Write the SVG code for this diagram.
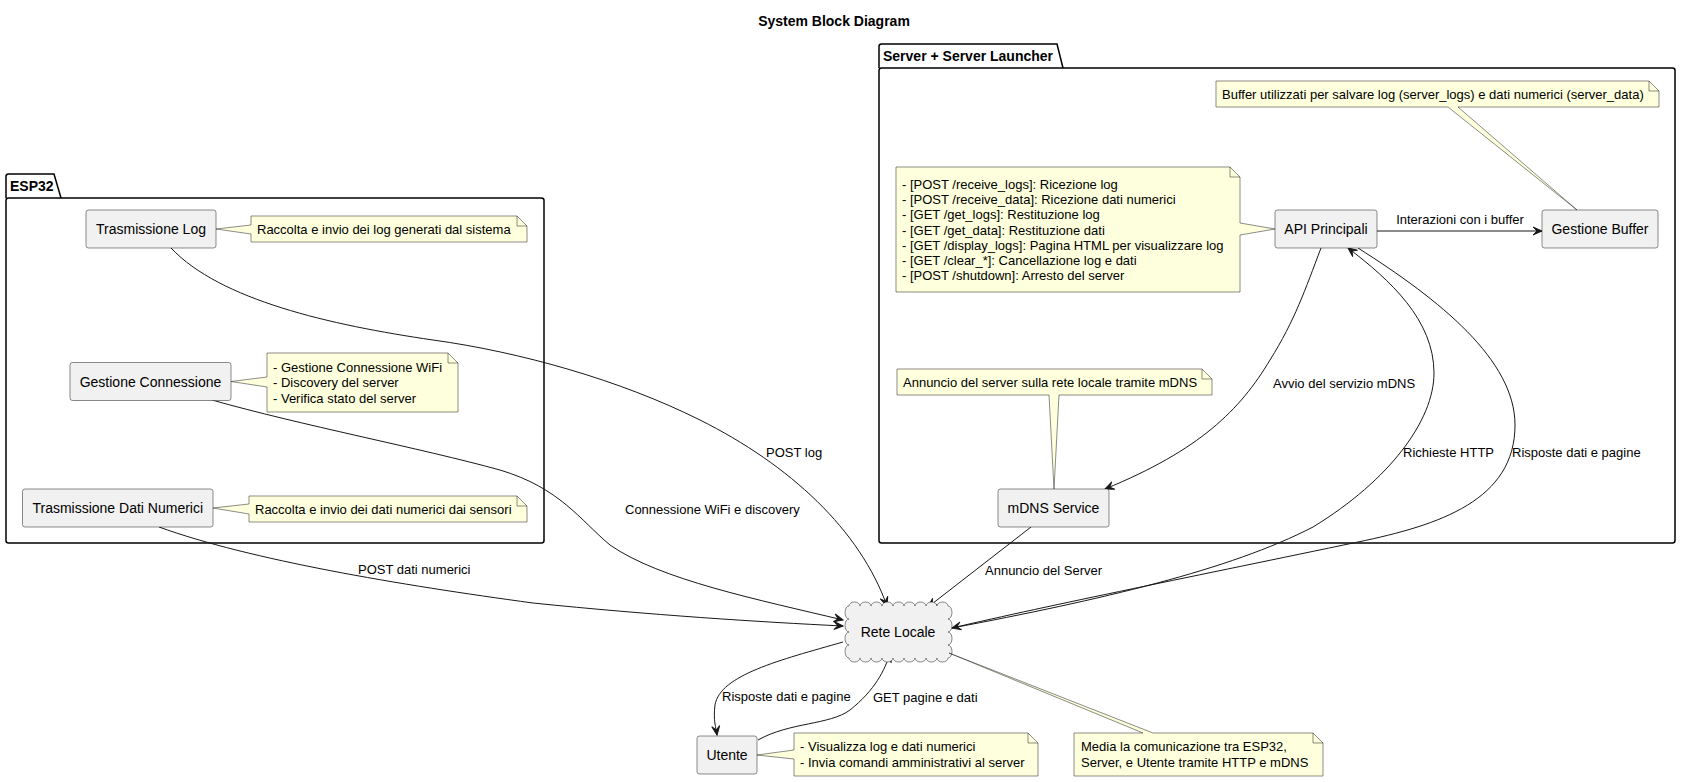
<svg xmlns="http://www.w3.org/2000/svg" width="1681" height="782" viewBox="0 0 1681 782">
<style>
.t{font-family:"Liberation Sans",Arial,sans-serif;fill:#000}
.title{font-size:14px;font-weight:bold}
.pk{font-size:14px;font-weight:bold}
.nd{font-size:14px;text-anchor:middle}
.nt{font-size:13px}
.lb{font-size:13px}
.pkg{fill:none;stroke:#000;stroke-width:1.5}
.box{fill:#F1F1F1;stroke:#181818;stroke-width:0.5}
.note{fill:#FEFFDD;stroke:#181818;stroke-width:0.5}
.fold{fill:none;stroke:#181818;stroke-width:0.5}
.e{fill:none;stroke:#181818;stroke-width:1}
</style>
<defs>
<marker id="arr" viewBox="-10 -5 11 10" refX="0" refY="0" markerWidth="11" markerHeight="10" orient="auto" markerUnits="userSpaceOnUse">
<path d="M0,0 L-9,-4 L-5,0 L-9,4 Z" fill="#181818" stroke="#181818" stroke-width="1"/>
</marker>
</defs>
<rect width="1681" height="782" fill="#fff"/>
<text class="t title" x="834" y="26" text-anchor="middle">System Block Diagram</text>

<g id="pkg-esp32">
<path class="pkg" d="M6,198 L6,176.5 Q6,174 8.5,174 L54,174 L61,198"/>
<rect class="pkg" x="6" y="198" width="538" height="345" rx="2.5"/>
<text class="t pk" x="10" y="191">ESP32</text>
</g>
<g id="pkg-server">
<path class="pkg" d="M879,68 L879,46.5 Q879,44 881.5,44 L1057,44 L1063,68"/>
<rect class="pkg" x="879" y="68" width="796" height="475" rx="2.5"/>
<text class="t pk" x="883" y="61">Server + Server Launcher</text>
</g>

<g id="connectors">
<path class="e" marker-end="url(#arr)" d="M171,248 C220,300 330,325 433,340 C520,352 620,380 700,420 C790,465 860,530 887,606"/>
<text class="t lb" x="766" y="457">POST log</text>
<path class="e" marker-end="url(#arr)" d="M212,400 C300,425 420,448 500,470 C560,488 580,520 610,545 C660,580 760,600 843,620"/>
<text class="t lb" x="625" y="514">Connessione WiFi e discovery</text>
<path class="e" marker-end="url(#arr)" d="M159,527 C250,560 400,585 533,603 C650,615 760,622 843,626"/>
<text class="t lb" x="358" y="574">POST dati numerici</text>
<path class="e" marker-end="url(#arr)" d="M1377,231 L1542,231"/>
<text class="t lb" x="1460" y="224" text-anchor="middle">Interazioni con i buffer</text>
<path class="e" marker-end="url(#arr)" d="M1321,248 C1305,290 1295,320 1270,360 C1240,410 1200,450 1105,489"/>
<text class="t lb" x="1273" y="388">Avvio del servizio mDNS</text>
<path class="e" marker-end="url(#arr)" d="M1031,527 L928,607"/>
<text class="t lb" x="985" y="575">Annuncio del Server</text>
<path class="e" marker-end="url(#arr)" d="M952,628 C1100,600 1230,570 1313,527 C1390,480 1434,420 1434,373 C1434,320 1390,280 1348,248"/>
<text class="t lb" x="1403" y="457">Richieste HTTP</text>
<path class="e" marker-end="url(#arr)" d="M1358,248 C1440,300 1515,360 1515,425 C1515,500 1440,525 1358,542 C1200,575 1050,605 952,628"/>
<text class="t lb" x="1512" y="457">Risposte dati e pagine</text>
<path class="e" marker-end="url(#arr)" d="M843,642 C780,660 720,675 715,705 C713,720 716,728 717,735"/>
<text class="t lb" x="722" y="701">Risposte dati e pagine</text>
<path class="e" marker-end="url(#arr)" d="M758,740 C790,722 830,725 850,710 C875,690 885,670 890,653"/>
<text class="t lb" x="873" y="702">GET pagine e dati</text>
</g>

<g id="trasmissione-log">
<rect class="box" x="86" y="210" width="130" height="38" rx="2.5"/>
<text class="t nd" x="151" y="234">Trasmissione Log</text>
</g>
<g id="note-trasmissione-log">
<path class="note" d="M251,216 L517,216 L527,226 L527,242 L251,242 L251,234 L216,229 L251,225 Z"/>
<path class="fold" d="M517,216 L517,226 L527,226"/>
<text class="t nt" x="257" y="234">Raccolta e invio dei log generati dal sistema</text>
</g>

<g id="gestione-connessione">
<rect class="box" x="70" y="362.5" width="161" height="38" rx="2.5"/>
<text class="t nd" x="150.5" y="386.5">Gestione Connessione</text>
</g>
<g id="note-gestione-connessione">
<path class="note" d="M267,353 L448,353 L458,363 L458,412 L267,412 L267,387 L231,381.5 L267,377 Z"/>
<path class="fold" d="M448,353 L448,363 L458,363"/>
<text class="t nt" x="273" y="372">- Gestione Connessione WiFi</text>
<text class="t nt" x="273" y="387">- Discovery del server</text>
<text class="t nt" x="273" y="403">- Verifica stato del server</text>
</g>

<g id="trasmissione-dati">
<rect class="box" x="22.5" y="489" width="190.5" height="38" rx="2.5"/>
<text class="t nd" x="117.75" y="513">Trasmissione Dati Numerici</text>
</g>
<g id="note-trasmissione-dati">
<path class="note" d="M249,496 L517,496 L527,506 L527,522 L249,522 L249,514 L213,508 L249,504 Z"/>
<path class="fold" d="M517,496 L517,506 L527,506"/>
<text class="t nt" x="255" y="514">Raccolta e invio dei dati numerici dai sensori</text>
</g>

<g id="api-principali">
<rect class="box" x="1275" y="210" width="102" height="38" rx="2.5"/>
<text class="t nd" x="1326" y="234">API Principali</text>
</g>
<g id="note-api">
<path class="note" d="M896,167 L1230,167 L1240,177 L1240,223 L1275,229 L1240,235 L1240,292 L896,292 Z"/>
<path class="fold" d="M1230,167 L1230,177 L1240,177"/>
<text class="t nt" x="902" y="189">- [POST /receive_logs]: Ricezione log</text>
<text class="t nt" x="902" y="204.2">- [POST /receive_data]: Ricezione dati numerici</text>
<text class="t nt" x="902" y="219.4">- [GET /get_logs]: Restituzione log</text>
<text class="t nt" x="902" y="234.6">- [GET /get_data]: Restituzione dati</text>
<text class="t nt" x="902" y="249.8">- [GET /display_logs]: Pagina HTML per visualizzare log</text>
<text class="t nt" x="902" y="265">- [GET /clear_*]: Cancellazione log e dati</text>
<text class="t nt" x="902" y="280.2">- [POST /shutdown]: Arresto del server</text>
</g>

<g id="gestione-buffer">
<rect class="box" x="1542" y="210" width="116" height="38" rx="2.5"/>
<text class="t nd" x="1600" y="234">Gestione Buffer</text>
</g>
<g id="note-buffer">
<path class="note" d="M1216,81 L1649,81 L1659,91 L1659,107 L1458,107 L1577,210 L1448,107 L1216,107 Z"/>
<path class="fold" d="M1649,81 L1649,91 L1659,91"/>
<text class="t nt" x="1222" y="99">Buffer utilizzati per salvare log (server_logs) e dati numerici (server_data)</text>
</g>

<g id="mdns-service">
<rect class="box" x="998" y="489" width="111" height="38" rx="2.5"/>
<text class="t nd" x="1053.5" y="513">mDNS Service</text>
</g>
<g id="note-mdns">
<path class="note" d="M897,369 L1202,369 L1212,379 L1212,395 L1059,395 L1054,489 L1049,395 L897,395 Z"/>
<path class="fold" d="M1202,369 L1202,379 L1212,379"/>
<text class="t nt" x="903" y="387">Annuncio del server sulla rete locale tramite mDNS</text>
</g>

<g id="rete-locale">
<path class="box" d="M849,606 a5.5,4 0 0,1 11,0 a5.5,4 0 0,1 11,0 a5.5,4 0 0,1 11,0 a5.5,4 0 0,1 11,0 a5.5,4 0 0,1 11,0 a5.5,4 0 0,1 11,0 a5.5,4 0 0,1 11,0 a5.5,4 0 0,1 11,0 a5.5,4 0 0,1 11,0 a4,6.5 0 0,1 0,13 a4,6.5 0 0,1 0,13 a4,6.5 0 0,1 0,13 a4,6.5 0 0,1 0,13 a5.5,4 0 0,1 -11,0 a5.5,4 0 0,1 -11,0 a5.5,4 0 0,1 -11,0 a5.5,4 0 0,1 -11,0 a5.5,4 0 0,1 -11,0 a5.5,4 0 0,1 -11,0 a5.5,4 0 0,1 -11,0 a5.5,4 0 0,1 -11,0 a5.5,4 0 0,1 -11,0 a4,6.5 0 0,1 0,-13 a4,6.5 0 0,1 0,-13 a4,6.5 0 0,1 0,-13 a4,6.5 0 0,1 0,-13 Z"/>
<text class="t nd" x="898" y="637">Rete Locale</text>
</g>
<g id="note-rete">
<path class="note" d="M1074,733 L1143,733 L949,653 L1153,733 L1313,733 L1323,743 L1323,776 L1074,776 Z"/>
<path class="fold" d="M1313,733 L1313,743 L1323,743"/>
<text class="t nt" x="1081" y="751">Media la comunicazione tra ESP32,</text>
<text class="t nt" x="1081" y="767">Server, e Utente tramite HTTP e mDNS</text>
</g>

<g id="utente">
<rect class="box" x="697" y="736" width="60" height="38" rx="2.5"/>
<text class="t nd" x="727" y="760">Utente</text>
</g>
<g id="note-utente">
<path class="note" d="M794,733 L1028,733 L1038,743 L1038,776 L794,776 L794,759 L757,755 L794,750 Z"/>
<path class="fold" d="M1028,733 L1028,743 L1038,743"/>
<text class="t nt" x="800" y="751">- Visualizza log e dati numerici</text>
<text class="t nt" x="800" y="767">- Invia comandi amministrativi al server</text>
</g>
</svg>
